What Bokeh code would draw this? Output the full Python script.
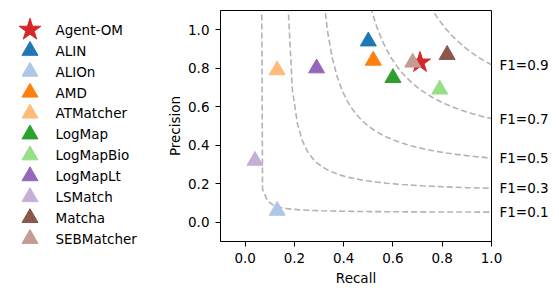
import numpy as np
from bokeh.plotting import figure
from bokeh.models import (Range1d, FixedTicker, PrintfTickFormatter, ColumnDataSource,
                          LinearAxis, CustomJSTickFormatter)
from bokeh.layouts import row
from bokeh.embed import file_html
from bokeh.resources import INLINE
from bokeh.core.properties import value

# ---- data ----
systems = ["Agent-OM", "ALIN", "ALIOn", "AMD", "ATMatcher", "LogMap",
           "LogMapBio", "LogMapLt", "LSMatch", "Matcha", "SEBMatcher"]
recall = [0.71, 0.50, 0.13, 0.52, 0.13, 0.60, 0.79, 0.29, 0.04, 0.82, 0.68]
precision = [0.83, 0.94, 0.06, 0.84, 0.79, 0.75, 0.69, 0.80, 0.32, 0.87, 0.83]
colors = ["#d62728", "#1f77b4", "#aec7e8", "#ff7f0e", "#ffbb78", "#2ca02c",
          "#98df8a", "#9467bd", "#c5b0d5", "#8c564b", "#c49c94"]
markers = ["star"] + ["triangle"] * 10
f1_levels = [0.1, 0.3, 0.5, 0.7, 0.9]
f1_labels = ["F1=0.1", "F1=0.3", "F1=0.5", "F1=0.7", "F1=0.9"]
ticks = [0.0, 0.2, 0.4, 0.6, 0.8, 1.0]

FONT = "DejaVu Sans"
FS = "13.5px"
W, H = 559, 294
LEG_W = 158

# ---- main plot ----
p = figure(width=W - LEG_W, height=H, x_range=Range1d(-0.1, 1.0), y_range=Range1d(-0.1, 1.1),
           output_backend="svg", toolbar_location=None, frame_align=False,
           min_border_left=62, min_border_right=68, min_border_top=10, min_border_bottom=53)
p.grid.visible = False
p.outline_line_color = "black"
p.outline_line_width = 1
p.background_fill_color = "white"
p.border_fill_color = "white"

# F1 iso-curves
for f in f1_levels:
    xs = np.linspace(0.01, 1, 50)
    ys = f * xs / (2 * xs - f)
    m = ys >= 0
    p.line(xs[m], ys[m], line_color="gray", line_alpha=0.6, line_width=1.6, line_dash="6 3")

sizes = [22 if mk == "star" else 16 for mk in markers]
src = ColumnDataSource(dict(x=recall, y=precision, c=colors, m=markers, s=sizes, name=systems))
p.scatter(x="x", y="y", marker="m", size="s", fill_color="c", line_color="c", source=src)

for ax in (p.xaxis[0], p.yaxis[0]):
    ax.ticker = FixedTicker(ticks=ticks)
    ax.formatter = PrintfTickFormatter(format="%.1f")
    ax.minor_tick_line_color = None
    ax.major_tick_in = 0
    ax.major_tick_out = 5
    ax.major_tick_line_width = 1
    ax.axis_line_width = 1
    ax.major_label_text_font = FONT
    ax.major_label_text_font_size = FS
    ax.major_label_text_color = "black"
    ax.axis_label_text_font = FONT
    ax.axis_label_text_font_size = FS
    ax.axis_label_text_font_style = "normal"
    ax.axis_label_text_color = "black"
p.xaxis.axis_label = "Recall"
p.yaxis.axis_label = "Precision"
p.yaxis.major_label_standoff = 6
p.yaxis.axis_label_standoff = 2
p.xaxis.major_label_standoff = 6
p.xaxis.axis_label_standoff = 4

# F1 labels on the right, at the curve value where Recall = 1
f1_pos = [f / (2 - f) for f in f1_levels]
rax = LinearAxis(ticker=FixedTicker(ticks=f1_pos),
                 formatter=CustomJSTickFormatter(args=dict(labels=f1_labels), code="return labels[index]"),
                 axis_line_color=None, major_tick_line_color=None, minor_tick_line_color=None,
                 major_tick_in=0, major_tick_out=0, major_label_standoff=8,
                 major_label_text_font=FONT, major_label_text_font_size=FS,
                 major_label_text_color="black")
p.add_layout(rax, "right")

# ---- legend panel ----
lf = figure(width=LEG_W, height=H, x_range=Range1d(0, LEG_W), y_range=Range1d(H, 0),
            output_backend="svg", toolbar_location=None, x_axis_type=None, y_axis_type=None,
            frame_align=False, min_border_left=0, min_border_right=0,
            min_border_top=0, min_border_bottom=0)
lf.grid.visible = False
lf.outline_line_color = None
row_y0, row_pitch = 29.3, 20.9
ly = [row_y0 + i * row_pitch for i in range(len(systems))]
lsizes = [23 if mk == "star" else 16 for mk in markers]
lsrc = ColumnDataSource(dict(x=[29.5] * len(systems), tx=[55] * len(systems), y=ly,
                             c=colors, m=markers, s=lsizes, t=systems))
lf.scatter(x="x", y="y", marker="m", size="s", fill_color="c", line_color="c", source=lsrc)
lf.text(x="tx", y="y", text="t", source=lsrc, text_baseline="middle", text_align="left",
        text_font=value(FONT), text_font_size=value(FS), text_color="black")

layout = row(lf, p)
open("out.html", "w").write(file_html(layout, INLINE))
